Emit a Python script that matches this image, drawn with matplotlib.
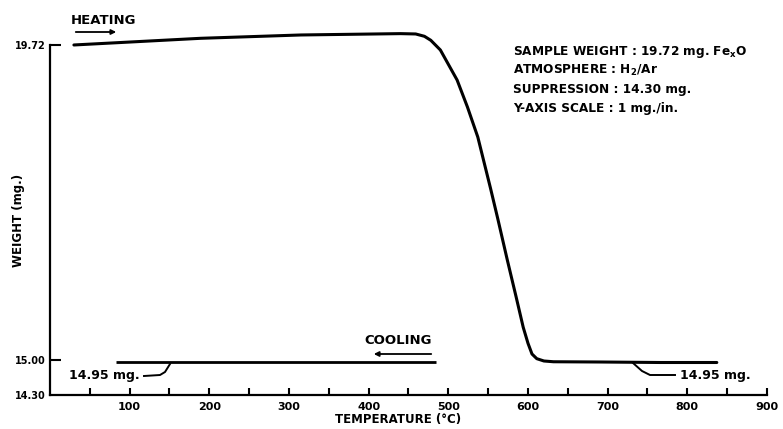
import numpy as np
import matplotlib
matplotlib.use("Agg")
import matplotlib.pyplot as plt
from matplotlib.lines import Line2D

plt.rcParams['font.family'] = ['DejaVu Sans']
plt.rcParams['mathtext.default'] = 'bf'

# ---- data ----
heat_T = [30, 189, 315, 440, 459, 470, 478, 490, 511, 524, 537, 553, 562, 574, 585, 594, 600, 605, 611, 620, 632, 690, 766, 837]
heat_W = [19.72, 19.82, 19.87, 19.89, 19.885, 19.85, 19.79, 19.645, 19.195, 18.79, 18.34, 17.57, 17.12, 16.50, 15.95, 15.49, 15.25, 15.09, 15.02, 14.98, 14.965, 14.96, 14.95, 14.95]
cool_T = [83, 484]
cool_W = [14.95, 14.95]
y_ticks = [14.30, 15.00, 19.72]
y_ticklabels = ["14.30", "15.00", "19.72"]
x_major = [100, 200, 300, 400, 500, 600, 700, 800, 900]
x_minor = [50, 150, 250, 350, 450, 550, 650, 750, 850]
info_lines = ["SAMPLE WEIGHT : 19.72 mg. Fe$_\\mathbf{x}$O",
              "ATMOSPHERE : H$_\\mathbf{2}$/Ar",
              "SUPPRESSION : 14.30 mg.",
              "Y-AXIS SCALE : 1 mg./in."]

# axis break below 15.00 mg (compressed region, as on the original chart)
K = 0.7492
def fwd(y):
    y = np.asarray(y, float)
    return np.where(y >= 15, y, 15 - (15 - y) * K)
def inv(t):
    t = np.asarray(t, float)
    return np.where(t >= 15, t, 15 - (15 - t) / K)

W, H = 783, 429
fig = plt.figure(figsize=(W / 100, H / 100), dpi=100)
ax = fig.add_axes([50 / W, (H - 395) / H, (767 - 50) / W, (395 - 5) / H])
ax.set_yscale('function', functions=(fwd, inv))
ax.set_xlim(0, 900)
ax.set_ylim(14.30, 20.319)

ax.plot(heat_T, heat_W, color='black', lw=2.2, solid_capstyle='round', solid_joinstyle='round')
ax.plot(cool_T, cool_W, color='black', lw=2.0, solid_capstyle='butt')

for s in ['top', 'right']:
    ax.spines[s].set_visible(False)
ax.spines['left'].set_bounds(14.30, 19.72)
ax.spines['bottom'].set_bounds(0, 900)
for s in ['left', 'bottom']:
    ax.spines[s].set_linewidth(1.6)

ax.set_xticks(x_major)
ax.set_xticklabels([str(v) for v in x_major], fontsize=8, fontweight='bold')
ax.set_xticks(x_minor, minor=True)
ax.tick_params(axis='x', which='both', direction='in', length=5, width=1.5, pad=5)
ax.set_yticks(y_ticks)
ax.set_yticklabels(y_ticklabels, fontsize=7, fontweight='bold')
ax.yaxis.set_minor_locator(matplotlib.ticker.NullLocator())
ax.tick_params(axis='y', direction='in', length=8, width=1.5, pad=3)
ax.yaxis.get_major_ticks()[0].tick1line.set_visible(False)

def px(x, y):
    return (x / W, 1 - y / H)

# axis titles
fig.text(*px(398, 420), "TEMPERATURE (°C)", fontsize=8.5, fontweight='bold', ha='center', va='center')
fig.text(*px(19, 220), "WEIGHT (mg.)", fontsize=8.5, fontweight='bold', ha='center', va='center', rotation=90)

# heating / cooling labels with arrows
fig.text(*px(104, 20), "HEATING", fontsize=9.5, fontweight='bold', ha='center', va='center')
fig.add_artist(matplotlib.patches.FancyArrowPatch(px(73, 32), px(119, 32), transform=fig.transFigure,
               arrowstyle='-|>', mutation_scale=7, lw=1.3, color='black'))
fig.text(*px(398, 341), "COOLING", fontsize=9.5, fontweight='bold', ha='center', va='center')
fig.add_artist(matplotlib.patches.FancyArrowPatch(px(434, 354), px(371, 354), transform=fig.transFigure,
               arrowstyle='-|>', mutation_scale=7, lw=1.3, color='black'))

# 14.95 mg callouts
fig.text(*px(140, 376), "14.95 mg.", fontsize=9, fontweight='bold', ha='right', va='center')
lx, ly = zip(px(144, 376), px(160, 375), px(165, 372), px(170, 364))
fig.add_artist(Line2D(lx, ly, transform=fig.transFigure, color='black', lw=1.4))
fig.text(*px(680, 376), "14.95 mg.", fontsize=9, fontweight='bold', ha='left', va='center')
rx, ry = zip(px(633, 363), px(642, 371), px(650, 375), px(675, 375))
fig.add_artist(Line2D(rx, ry, transform=fig.transFigure, color='black', lw=1.4))

# info block
for i, t in enumerate(info_lines):
    fig.text(*px(513, 52 + 18.7 * i), t, fontsize=8.7, fontweight='bold', ha='left', va='center')

fig.savefig("out.png", dpi=100)
